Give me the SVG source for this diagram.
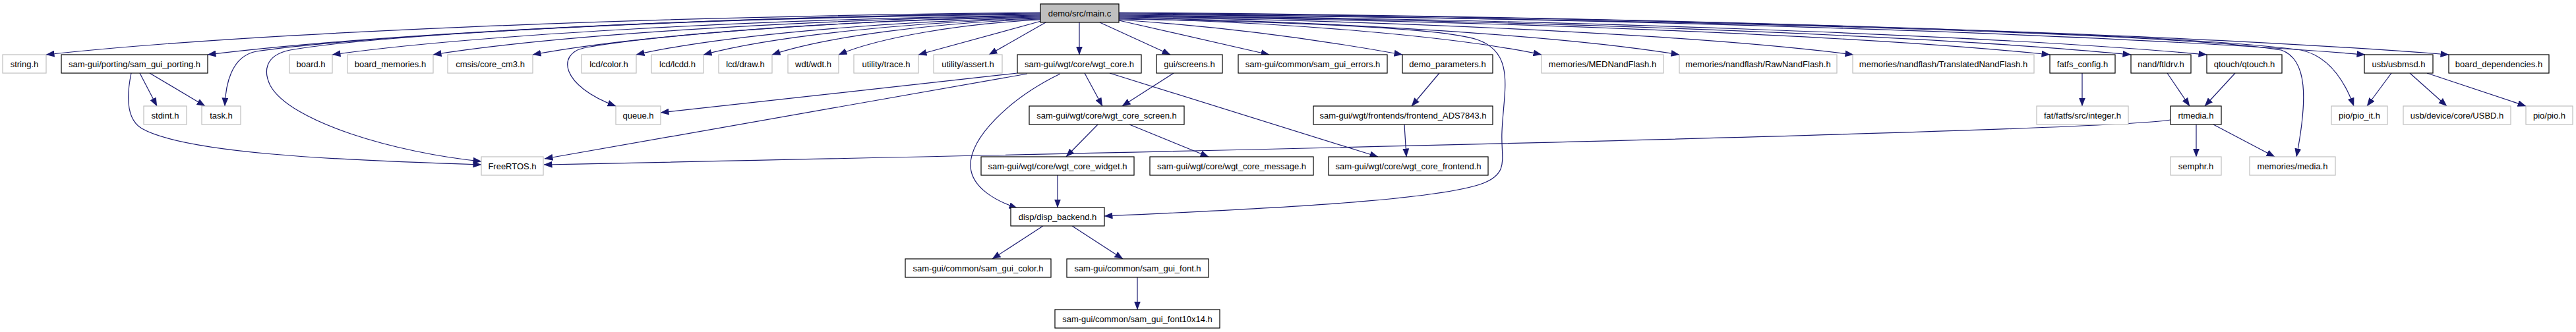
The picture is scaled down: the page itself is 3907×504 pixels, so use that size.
<svg xmlns="http://www.w3.org/2000/svg" width="3907" height="504" viewBox="0 0 3907 504">
<defs>
<marker id="ah" viewBox="0 0 13 10" markerWidth="13" markerHeight="10" markerUnits="userSpaceOnUse" refX="12.5" refY="5" orient="auto">
<path d="M0,0 L13,5 L0,10 z" fill="#191970"/>
</marker>
<style>
.n rect{fill:#ffffff;stroke:#000000;stroke-width:1.2}
.u rect{fill:#ffffff;stroke:#bfbfbf;stroke-width:1.2}
.r rect{fill:#bfbfbf;stroke:#000000;stroke-width:1.2}
text{font-family:"Liberation Sans",Arial,sans-serif;font-size:13px;fill:#000000;text-anchor:middle}
#edges path{fill:none;stroke:#191970;stroke-width:1.2;marker-end:url(#ah)}
</style>
</defs>
<rect width="3907" height="504" fill="#ffffff"/>
<g id="edges">
<path d="M1578,19 C975,25 372,50 70,83"/>
<path d="M1578,20 C1073,26 568,51.5 315,83"/>
<path d="M1578,21 C1000,26 520,58 389,78 C350,85 342,130 341,161"/>
<path d="M1578,22 C1000,27 560,55 440,76 C400,84 400,110 410,130 C440,185 600,232 730,245"/>
<path d="M1578,23 C1148,29 719,53 504,83"/>
<path d="M1578,24 C1210,30 841,53.5 657,83"/>
<path d="M1578,25 C1270,31 962,54 808,83"/>
<path d="M1578,26 C1200,32 950,60 885,73 C845,82 850,130 934,161"/>
<path d="M1578,27 C1333,32.6 1088,55 965,83"/>
<path d="M1578,28 C1374,33.5 1169,55.5 1067,83"/>
<path d="M1578,29 C1415,34.4 1252,56 1171,83"/>
<path d="M1578,30 C1456,36 1333,57 1272,83"/>
<path d="M1579,32 L1393,83"/>
<path d="M1586,34 L1500,83"/>
<path d="M1637,34 L1637,83"/>
<path d="M1668,34 L1775,83"/>
<path d="M1697,31 L1925,83"/>
<path d="M1697,30 C1850,40 2000,60 2127,83"/>
<path d="M1697,29 C1900,32 2180,40 2240,60 C2300,80 2280,140 2278,200 C2276,240 2290,262 2250,278 C2180,305 1900,318 1675,328"/>
<path d="M1697,28 C1953,33.5 2210,55.5 2338,83"/>
<path d="M1697,27 C2037,32.6 2377,55 2547,83"/>
<path d="M1697,26 C2143,31.7 2588,54.5 2811,83"/>
<path d="M1697,25 C2262,30.8 2827,54 3109,83"/>
<path d="M1697,24 C2311,30 2925,53.5 3232,83"/>
<path d="M1697,23 C2357,29 3017,53 3347,83"/>
<path d="M1697,22 C2500,28 3300,50 3460,76 C3500,90 3500,150 3483,238"/>
<path d="M1697,21 C2453,27 3209,52 3587,83"/>
<path d="M1697,20 C2500,26 3300,50 3490,76 C3530,85 3555,120 3570,161"/>
<path d="M1697,19 C2504,25 3311,51 3714,83"/>
<path d="M212,111 L238,161"/>
<path d="M227,111 L311,161"/>
<path d="M199,111 C193,140 190,180 215,195 C280,232 500,243 730,250"/>
<path d="M1543,111 L1002,171"/>
<path d="M1558,112 L826,241"/>
<path d="M1608,112 C1530,150 1470,210 1472,253 C1474,285 1510,305 1543,316"/>
<path d="M1645,111 L1672,161"/>
<path d="M1780,111 L1702,161"/>
<path d="M1683,111 L2090,238"/>
<path d="M1665,189 L1617,238"/>
<path d="M1713,189 L1833,238"/>
<path d="M1604,266 L1604,315"/>
<path d="M1582,343 L1505,393"/>
<path d="M1626,343 L1703,393"/>
<path d="M1725,421 L1725,470"/>
<path d="M2183,111 L2141,161"/>
<path d="M2130,189 L2133,238"/>
<path d="M3158,111 L3158,161"/>
<path d="M3292,182 C3200,197 2200,222 825,250"/>
<path d="M3287,111 L3321,161"/>
<path d="M3390,111 L3344,161"/>
<path d="M3331,189 L3331,238"/>
<path d="M3357,189 L3450,238"/>
<path d="M3627,111 L3590,161"/>
<path d="M3655,111 L3711,161"/>
<path d="M3681,111 L3831,161"/>
</g>
<g id="root" class="r"><rect x="1578" y="6" width="119" height="28"/><text x="1637.5" y="25">demo/src/main.c</text></g>
<g id="string_h" class="u"><rect x="4" y="83" width="66" height="28"/><text x="37" y="102">string.h</text></g>
<g id="sam_gui_porting_h" class="n"><rect x="93" y="83" width="222" height="28"/><text x="204" y="102">sam-gui/porting/sam_gui_porting.h</text></g>
<g id="board_h" class="u"><rect x="439" y="83" width="65" height="28"/><text x="471.5" y="102">board.h</text></g>
<g id="board_memories_h" class="u"><rect x="527" y="83" width="130" height="28"/><text x="592" y="102">board_memories.h</text></g>
<g id="core_cm3_h" class="u"><rect x="679" y="83" width="129" height="28"/><text x="743.5" y="102">cmsis/core_cm3.h</text></g>
<g id="lcd_color_h" class="u"><rect x="882" y="83" width="83" height="28"/><text x="923.5" y="102">lcd/color.h</text></g>
<g id="lcd_lcdd_h" class="u"><rect x="988" y="83" width="79" height="28"/><text x="1027.5" y="102">lcd/lcdd.h</text></g>
<g id="lcd_draw_h" class="u"><rect x="1090" y="83" width="81" height="28"/><text x="1130.5" y="102">lcd/draw.h</text></g>
<g id="wdt_h" class="u"><rect x="1195" y="83" width="77" height="28"/><text x="1233.5" y="102">wdt/wdt.h</text></g>
<g id="trace_h" class="u"><rect x="1295" y="83" width="98" height="28"/><text x="1344" y="102">utility/trace.h</text></g>
<g id="assert_h" class="u"><rect x="1416" y="83" width="104" height="28"/><text x="1468" y="102">utility/assert.h</text></g>
<g id="wgt_core_h" class="n"><rect x="1543" y="83" width="188" height="28"/><text x="1637" y="102">sam-gui/wgt/core/wgt_core.h</text></g>
<g id="screens_h" class="n"><rect x="1754" y="83" width="100" height="28"/><text x="1804" y="102">gui/screens.h</text></g>
<g id="sam_gui_errors_h" class="n"><rect x="1878" y="83" width="226" height="28"/><text x="1991" y="102">sam-gui/common/sam_gui_errors.h</text></g>
<g id="demo_parameters_h" class="n"><rect x="2127" y="83" width="137" height="28"/><text x="2195.5" y="102">demo_parameters.h</text></g>
<g id="MEDNandFlash_h" class="u"><rect x="2338" y="83" width="185" height="28"/><text x="2430.5" y="102">memories/MEDNandFlash.h</text></g>
<g id="RawNandFlash_h" class="u"><rect x="2547" y="83" width="239" height="28"/><text x="2666.5" y="102">memories/nandflash/RawNandFlash.h</text></g>
<g id="TranslatedNandFlash_h" class="u"><rect x="2810" y="83" width="275" height="28"/><text x="2947.5" y="102">memories/nandflash/TranslatedNandFlash.h</text></g>
<g id="fatfs_config_h" class="n"><rect x="3109" y="83" width="99" height="28"/><text x="3158.5" y="102">fatfs_config.h</text></g>
<g id="ftldrv_h" class="n"><rect x="3232" y="83" width="91" height="28"/><text x="3277.5" y="102">nand/ftldrv.h</text></g>
<g id="qtouch_h" class="n"><rect x="3347" y="83" width="114" height="28"/><text x="3404" y="102">qtouch/qtouch.h</text></g>
<g id="usbmsd_h" class="n"><rect x="3586" y="83" width="104" height="28"/><text x="3638" y="102">usb/usbmsd.h</text></g>
<g id="board_dependencies_h" class="n"><rect x="3714" y="83" width="152" height="28"/><text x="3790" y="102">board_dependencies.h</text></g>
<g id="stdint_h" class="u"><rect x="218" y="161" width="65" height="28"/><text x="250.5" y="180">stdint.h</text></g>
<g id="task_h" class="u"><rect x="306" y="161" width="59" height="28"/><text x="335.5" y="180">task.h</text></g>
<g id="queue_h" class="u"><rect x="934" y="161" width="68" height="28"/><text x="968" y="180">queue.h</text></g>
<g id="wgt_core_screen_h" class="n"><rect x="1561" y="161" width="235" height="28"/><text x="1678.5" y="180">sam-gui/wgt/core/wgt_core_screen.h</text></g>
<g id="frontend_ADS7843_h" class="n"><rect x="1992" y="161" width="272" height="28"/><text x="2128" y="180">sam-gui/wgt/frontends/frontend_ADS7843.h</text></g>
<g id="integer_h" class="u"><rect x="3089" y="161" width="139" height="28"/><text x="3158.5" y="180">fat/fatfs/src/integer.h</text></g>
<g id="rtmedia_h" class="n"><rect x="3292" y="161" width="77" height="28"/><text x="3330.5" y="180">rtmedia.h</text></g>
<g id="pio_it_h" class="u"><rect x="3536" y="161" width="85" height="28"/><text x="3578.5" y="180">pio/pio_it.h</text></g>
<g id="USBD_h" class="u"><rect x="3645" y="161" width="163" height="28"/><text x="3726.5" y="180">usb/device/core/USBD.h</text></g>
<g id="pio_h" class="u"><rect x="3831" y="161" width="71" height="28"/><text x="3866.5" y="180">pio/pio.h</text></g>
<g id="FreeRTOS_h" class="u"><rect x="730" y="238" width="94" height="28"/><text x="777" y="257">FreeRTOS.h</text></g>
<g id="wgt_core_widget_h" class="n"><rect x="1488" y="238" width="232" height="28"/><text x="1604" y="257">sam-gui/wgt/core/wgt_core_widget.h</text></g>
<g id="wgt_core_message_h" class="n"><rect x="1744" y="238" width="248" height="28"/><text x="1868" y="257">sam-gui/wgt/core/wgt_core_message.h</text></g>
<g id="wgt_core_frontend_h" class="n"><rect x="2015" y="238" width="242" height="28"/><text x="2136" y="257">sam-gui/wgt/core/wgt_core_frontend.h</text></g>
<g id="semphr_h" class="u"><rect x="3292" y="238" width="77" height="28"/><text x="3330.5" y="257">semphr.h</text></g>
<g id="media_h" class="u"><rect x="3412" y="238" width="130" height="28"/><text x="3477" y="257">memories/media.h</text></g>
<g id="disp_backend_h" class="n"><rect x="1533" y="315" width="142" height="28"/><text x="1604" y="334">disp/disp_backend.h</text></g>
<g id="sam_gui_color_h" class="n"><rect x="1373" y="393" width="221" height="28"/><text x="1483.5" y="412">sam-gui/common/sam_gui_color.h</text></g>
<g id="sam_gui_font_h" class="n"><rect x="1618" y="393" width="215" height="28"/><text x="1725.5" y="412">sam-gui/common/sam_gui_font.h</text></g>
<g id="sam_gui_font10x14_h" class="n"><rect x="1600" y="470" width="250" height="28"/><text x="1725" y="489">sam-gui/common/sam_gui_font10x14.h</text></g>
</svg>
